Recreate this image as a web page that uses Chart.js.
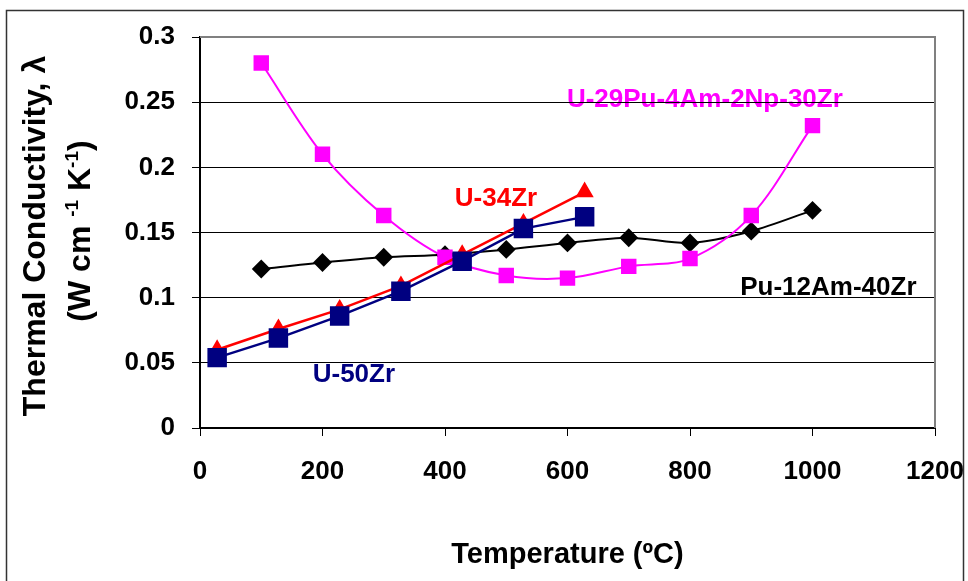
<!DOCTYPE html>
<html>
<head>
<meta charset="utf-8">
<script src="https://cdn.jsdelivr.net/npm/chart.js@4.4.1/dist/chart.umd.min.js"></script>
<style>
  html, body { margin: 0; padding: 0; background: #fff; }
  #wrap { width: 968px; height: 581px; position: relative; }
</style>
</head>
<body>
<div id="wrap"><canvas id="c" width="968" height="581"></canvas></div>
<script>
// ---- data ----
const tempsPu = [100, 200, 300, 400, 500, 600, 700, 800, 900, 1000];
const puAmZr = [0.122, 0.127, 0.131, 0.133, 0.137, 0.142, 0.146, 0.142, 0.151, 0.167];
const uPuAmNpZr = [0.280, 0.210, 0.163, 0.131, 0.117, 0.115, 0.124, 0.130, 0.163, 0.232];
const tempsU = [28, 128, 228, 328, 428, 528, 628];
const u34Zr = [0.060, 0.076, 0.091, 0.109, 0.133, 0.157, 0.181];
const u50Zr = [0.054, 0.069, 0.086, 0.105, 0.128, 0.153, 0.162];

const seriesNames = ['U-50Zr', 'U-34Zr', 'U-29Pu-4Am-2Np-30Zr', 'Pu-12Am-40Zr'];
const xTickLabels = ['0', '200', '400', '600', '800', '1000', '1200'];
const yTickLabels = ['0', '0.05', '0.1', '0.15', '0.2', '0.25', '0.3'];
const xTitle = 'Temperature (\u00baC)';
const yTitleLine1 = 'Thermal Conductivity, \u03bb';
const yTitleLine2 = [['(W cm ', false], ['-1', true], [' K', false], ['-1', true], [')', false]];
// label anchors in data units [temperature, conductivity]
const labelAnchors = [[184, 0.0353], [416, 0.1703], [599, 0.2463], [882, 0.102]];

const FONT = '"Liberation Sans", Arial, Helvetica, sans-serif';
const colors = ['#000080', '#FF0000', '#FF00FF', '#000000'];

function pts(xs, ys) { return xs.map((x, i) => ({ x: x, y: ys[i] })); }

const decorPlugin = {
  id: 'decor',
  beforeDraw(chart) {
    const ctx = chart.ctx;
    ctx.save();
    ctx.fillStyle = '#fff';
    ctx.fillRect(0, 0, chart.width, chart.height);
    ctx.strokeStyle = '#333';
    ctx.lineWidth = 1.5;
    ctx.strokeRect(6.5, 10.5, 957, 620);
    // series labels (under grid lines)
    const xs = chart.scales.x, ys = chart.scales.y;
    ctx.font = 'bold 26px ' + FONT;
    ctx.textAlign = 'left';
    ctx.textBaseline = 'alphabetic';
    seriesNames.forEach((n, i) => {
      ctx.fillStyle = colors[i];
      ctx.fillText(n, xs.getPixelForValue(labelAnchors[i][0]), ys.getPixelForValue(labelAnchors[i][1]));
    });
    // axis titles
    ctx.fillStyle = '#000';
    ctx.font = 'bold 29px ' + FONT;
    ctx.textAlign = 'center';
    ctx.fillText(xTitle, (chart.chartArea.left + chart.chartArea.right) / 2, 563);
    ctx.save();
    ctx.translate(45, 236);
    ctx.rotate(-Math.PI / 2);
    ctx.font = 'bold 32px ' + FONT;
    ctx.textAlign = 'center';
    ctx.fillText(yTitleLine1, 0, 0);
    ctx.restore();
    // second line with superscripts
    ctx.save();
    ctx.translate(90, 231);
    ctx.rotate(-Math.PI / 2);
    const big = 'bold 32px ' + FONT, small = 'bold 19px ' + FONT;
    let total = 0;
    yTitleLine2.forEach(([t, s]) => { ctx.font = s ? small : big; total += ctx.measureText(t).width; });
    let cx = -total / 2;
    ctx.textAlign = 'left';
    yTitleLine2.forEach(([t, s]) => {
      ctx.font = s ? small : big;
      ctx.fillText(t, cx, s ? -12 : 0);
      cx += ctx.measureText(t).width;
    });
    ctx.restore();
    ctx.restore();
  },
  beforeDatasetsDraw(chart) {
    const ctx = chart.ctx, a = chart.chartArea;
    ctx.save();
    ctx.strokeStyle = '#808080';
    ctx.lineWidth = 2;
    ctx.beginPath();
    ctx.moveTo(a.left, a.top);
    ctx.lineTo(a.right, a.top);
    ctx.lineTo(a.right, a.bottom);
    ctx.stroke();
    ctx.restore();
  }
};

new Chart(document.getElementById('c'), {
  type: 'line',
  data: {
    datasets: [
      { label: seriesNames[0], data: pts(tempsU, u50Zr), borderColor: colors[0], backgroundColor: colors[0],
        borderWidth: 2.5, pointStyle: 'rect', pointRadius: 12, tension: 0 },
      { label: seriesNames[1], data: pts(tempsU, u34Zr), borderColor: colors[1], backgroundColor: colors[1],
        borderWidth: 2.5, pointStyle: 'triangle', pointRadius: 8, tension: 0 },
      { label: seriesNames[2], data: pts(tempsPu, uPuAmNpZr), borderColor: colors[2], backgroundColor: colors[2],
        borderWidth: 2, pointStyle: 'rect', pointRadius: 9.5, tension: 0.33 },
      { label: seriesNames[3], data: pts(tempsPu, puAmZr), borderColor: colors[3], backgroundColor: colors[3],
        borderWidth: 2, pointStyle: 'rectRot', pointRadius: 8, tension: 0.3 }
    ]
  },
  options: {
    responsive: false,
    devicePixelRatio: 1,
    animation: false,
    layout: { padding: { left: 0, top: 37, right: 33, bottom: 0 } },
    plugins: { legend: { display: false }, tooltip: { enabled: false } },
    elements: { point: { borderWidth: 0 } },
    scales: {
      x: {
        type: 'linear', min: 0, max: 1200,
        afterFit(s) { s.height = 153; s.paddingLeft = 0; s.paddingRight = 0; },
        ticks: { stepSize: 200, color: '#000', padding: 20, maxRotation: 0,
          font: { family: FONT, size: 26, weight: 'bold' },
          callback: (v, i) => xTickLabels[i] },
        grid: { drawOnChartArea: false, tickLength: 8, color: '#000', tickColor: '#000', lineWidth: 1 },
        border: { display: true, color: '#000', width: 2 }
      },
      y: {
        type: 'linear', min: 0, max: 0.3,
        afterFit(s) { s.width = 200; s.paddingTop = 0; s.paddingBottom = 0; },
        ticks: { stepSize: 0.05, color: '#000', padding: 17,
          font: { family: FONT, size: 26, weight: 'bold' },
          callback: (v, i) => yTickLabels[i] },
        grid: { color: '#000', tickColor: '#000', tickLength: 8, lineWidth: 1 },
        border: { display: true, color: '#000', width: 2 }
      }
    }
  },
  plugins: [decorPlugin]
});
</script>
</body>
</html>
